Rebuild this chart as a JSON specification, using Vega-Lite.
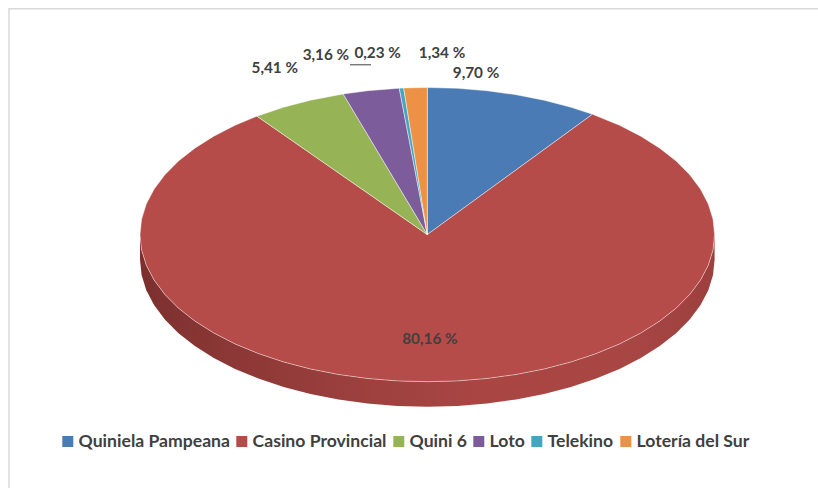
{
"$schema":"https://vega.github.io/schema/vega-lite/v6.json",
"width":818,"height":488,"padding":0,"autosize":"none","background":"white",
"config":{"view":{"stroke":null}},
"projection":{"type":"identity","reflectY":true,"scale":2.873,"translate":[427.3,234.6]},
"layer":[
{"data":{"values":[{"type":"Feature","properties":{"parte":"marco"},"geometry":{"type":"LineString","coordinates":[[-145.6,-88.2],[-145.6,78.6],[136.2,78.6]]}}]},
"mark":{"type":"geoshape","filled":false,"stroke":"#d9d9d9","strokeWidth":1.5},"encoding":{}},
{"data":{"values":[{"type":"Feature","properties":{"parte":"canto"},"geometry":{"type":"Polygon","coordinates":[[[-100,0],[-99.45,-5.35],[-97.81,-10.65],[-95.11,-15.82],[-91.35,-20.82],[-86.6,-25.6],[-80.9,-30.09],[-74.31,-34.26],[-66.91,-38.05],[-58.78,-41.42],[-50,-44.34],[-40.67,-46.77],[-30.9,-48.69],[-20.79,-50.08],[-10.45,-50.92],[0,-51.2],[10.45,-50.92],[20.79,-50.08],[30.9,-48.69],[40.67,-46.77],[50,-44.34],[58.78,-41.42],[66.91,-38.05],[74.31,-34.26],[80.9,-30.09],[86.6,-25.6],[91.35,-20.82],[95.11,-15.82],[97.81,-10.65],[99.45,-5.35],[100,0],[100,-8.7],[99.45,-14.05],[97.81,-19.35],[95.11,-24.52],[91.35,-29.52],[86.6,-34.3],[80.9,-38.79],[74.31,-42.96],[66.91,-46.75],[58.78,-50.12],[50,-53.04],[40.67,-55.47],[30.9,-57.39],[20.79,-58.78],[10.45,-59.62],[0,-59.9],[-10.45,-59.62],[-20.79,-58.78],[-30.9,-57.39],[-40.67,-55.47],[-50,-53.04],[-58.78,-50.12],[-66.91,-46.75],[-74.31,-42.96],[-80.9,-38.79],[-86.6,-34.3],[-91.35,-29.52],[-95.11,-24.52],[-97.81,-19.35],[-99.45,-14.05],[-100,-8.7],[-100,0]]]}}]},
"mark":{"type":"geoshape","stroke":null,"fill":{"gradient":"linear","x1":0,"y1":0,"x2":1,"y2":0,"stops":[{"offset":0,"color":"#7b302e"},{"offset":0.12,"color":"#883634"},{"offset":0.35,"color":"#9a3f3d"},{"offset":0.6,"color":"#a94644"},{"offset":0.85,"color":"#a84644"},{"offset":1,"color":"#9c403d"}]}},"encoding":{}},
{"data":{"values":[
{"type":"Feature","properties":{"categoria":"Quiniela Pampeana","porcentaje":9.70},"geometry":{"type":"Polygon","coordinates":[[[0,0],[0,51.2],[10.45,50.92],[20.79,50.08],[30.9,48.69],[40.67,46.77],[50,44.34],[57.5,41.89],[0,0]]]}},
{"type":"Feature","properties":{"categoria":"Casino Provincial","porcentaje":80.16},"geometry":{"type":"Polygon","coordinates":[[[0,0],[57.5,41.89],[66.91,38.05],[74.31,34.26],[80.9,30.09],[86.6,25.6],[91.35,20.82],[95.11,15.82],[97.81,10.65],[99.45,5.35],[100,0],[99.45,-5.35],[97.81,-10.65],[95.11,-15.82],[91.35,-20.82],[86.6,-25.6],[80.9,-30.09],[74.31,-34.26],[66.91,-38.05],[58.78,-41.42],[50,-44.34],[40.67,-46.77],[30.9,-48.69],[20.79,-50.08],[10.45,-50.92],[0,-51.2],[-10.45,-50.92],[-20.79,-50.08],[-30.9,-48.69],[-40.67,-46.77],[-50,-44.34],[-58.78,-41.42],[-66.91,-38.05],[-74.31,-34.26],[-80.9,-30.09],[-86.6,-25.6],[-91.35,-20.82],[-95.11,-15.82],[-97.81,-10.65],[-99.45,-5.35],[-100,0],[-99.45,5.35],[-97.81,10.65],[-95.11,15.82],[-91.35,20.82],[-86.6,25.6],[-80.9,30.09],[-74.31,34.26],[-66.91,38.05],[-59.3,41.23],[0,0]]]}},
{"type":"Feature","properties":{"categoria":"Quini 6","porcentaje":5.41},"geometry":{"type":"Polygon","coordinates":[[[0,0],[-59.3,41.23],[-50,44.34],[-40.67,46.77],[-29.27,48.96],[0,0]]]}},
{"type":"Feature","properties":{"categoria":"Loto","porcentaje":3.16},"geometry":{"type":"Polygon","coordinates":[[[0,0],[-29.27,48.96],[-20.79,50.08],[-9.76,50.96],[0,0]]]}},
{"type":"Feature","properties":{"categoria":"Telekino","porcentaje":0.23},"geometry":{"type":"Polygon","coordinates":[[[0,0],[-9.76,50.96],[-8.22,51.03],[0,0]]]}},
{"type":"Feature","properties":{"categoria":"Lotería del Sur","porcentaje":1.34},"geometry":{"type":"Polygon","coordinates":[[[0,0],[-8.22,51.03],[-4,51.14],[0,51.2],[0,0]]]}}
]},
"mark":{"type":"geoshape","stroke":"#ffffff","strokeWidth":0.6,"strokeOpacity":0.75},
"encoding":{"color":{"field":"properties.categoria","type":"nominal","scale":{"domain":["Quiniela Pampeana","Casino Provincial","Quini 6","Loto","Telekino","Lotería del Sur"],"range":["#4a7bb5","#b64c49","#96b456","#7c5c9a","#44a5c0","#ec9145"]},
"legend":{"title":null,"orient":"none","legendX":59,"legendY":432,"direction":"horizontal","columns":6,"symbolType":"square","symbolSize":121,"symbolStrokeWidth":0,"symbolOpacity":1,"labelFont":"Lato","labelFontWeight":"bold","labelFontSize":17.6,"labelColor":"#404040","labelOffset":2,"columnPadding":3,"labelLimit":300,"clipHeight":19}}}},
{"data":{"values":[{"type":"Feature","properties":{"parte":"guia"},"geometry":{"type":"LineString","coordinates":[[-26.9,59.1],[-19.6,59.1]]}}]},
"mark":{"type":"geoshape","filled":false,"stroke":"#404040","strokeWidth":1},"encoding":{}},
{"data":{"values":[
{"etiqueta":"9,70 %","lon":16.95,"lat":56.3},
{"etiqueta":"80,16 %","lon":0.9,"lat":-36.4},
{"etiqueta":"5,41 %","lon":-53.1,"lat":58.0},
{"etiqueta":"3,16 %","lon":-35.3,"lat":62.6},
{"etiqueta":"0,23 %","lon":-17.3,"lat":63.3},
{"etiqueta":"1,34 %","lon":5.12,"lat":63.3}
]},
"mark":{"type":"text","font":"Lato","fontWeight":"bold","fontSize":15.3,"color":"#404040","align":"center","baseline":"middle"},
"encoding":{"longitude":{"field":"lon","type":"quantitative"},"latitude":{"field":"lat","type":"quantitative"},"text":{"field":"etiqueta","type":"nominal"}}}
]
}
